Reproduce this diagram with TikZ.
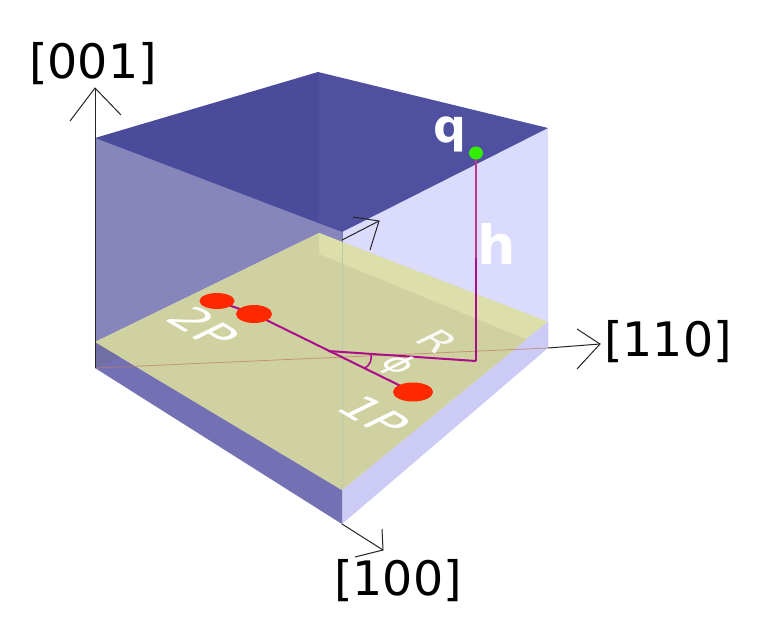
\documentclass[tikz,border=0pt]{standalone}
\usepackage{fontspec}
\setmainfont{DejaVu Sans}
\usetikzlibrary{shapes.geometric}
\definecolor{pl}{RGB}{172,12,140}
\definecolor{plup}{RGB}{190,55,140}
\definecolor{dotred}{RGB}{255,40,0}
\definecolor{dotgreen}{RGB}{51,238,0}
\definecolor{topd}{RGB}{79,81,160}
\definecolor{topdd}{RGB}{74,76,155}
\definecolor{backl}{RGB}{134,133,188}
\definecolor{backr}{RGB}{219,219,254}
\definecolor{yel}{RGB}{207,209,160}
\definecolor{yelb}{RGB}{221,223,170}
\definecolor{frontl}{RGB}{115,113,180}
\definecolor{frontr}{RGB}{203,203,245}
\definecolor{cornerl}{RGB}{112,110,165}
\definecolor{faintv}{RGB}{188,200,172}
\begin{document}
\begin{tikzpicture}[x=1pt,y=-1pt,
  axisline/.style={draw=black!85,line width=1pt,line join=miter},
  purple line/.style={draw=pl,line width=2pt},
  axislabel/.style={font=\fontsize{47.5}{47.5}\selectfont,text=black,inner sep=0pt},
  boldlabel/.style={font=\fontsize{#1}{#1}\selectfont\bfseries,text=white,inner sep=0pt},
  planelabel/.style={font=\fontsize{#1}{#1}\selectfont,text=white,inner sep=0pt,transform shape,cm={0.86,-0.51,0.9,0.44,(0,0)}},
  reddot/.style={ellipse,fill=dotred,inner sep=0pt},
  greendot/.style={ellipse,fill=dotgreen,inner sep=0pt,minimum width=14pt,minimum height=13pt},
]
\useasboundingbox (0,0) rectangle (763,624);
\fill[white] (0,0) rectangle (763,624);
% corners
\coordinate (TL) at (95,138);
\coordinate (TB) at (318,72);
\coordinate (TR) at (548,128);
\coordinate (TF) at (342,232);
\coordinate (TM) at (318,223);
\coordinate (BL) at (95,368);
\coordinate (BB) at (319,254);
\coordinate (BR) at (548,348);
\coordinate (BF) at (342,524);
\coordinate (YL) at (95,342);
\coordinate (YB) at (319,233);
\coordinate (YR) at (548,322);
\coordinate (YF) at (342,490);
\coordinate (YM) at (342,242);
% back faces
\fill[backl] (TL)--(TF)--(YM)--(YB)--(YL)--cycle;
\fill[backr] (TF)--(TR)--(YR)--(YM)--cycle;
% top face
\fill[topd] (TB)--(TR)--(TF)--(TM)--cycle;
\fill[topdd] (TL)--(TB)--(TM)--cycle;
% side strips
\fill[frontr] (YF)--(YR)--(BR)--(BF)--cycle;
\fill[frontl] (YL)--(YF)--(BF)--(BL)--cycle;
\fill[cornerl] (YL)--(BL)--(135,351)--cycle;
% plane
\fill[yel] (YL)--(YB)--(YR)--(YF)--cycle;
\fill[yelb] (YB)--(YR)--(526,339)--(BB)--cycle;
\fill[frontr] (YR)--(BR)--(526,339)--cycle;
% faint lines
\draw[line width=0.7pt,color=faintv] (YM)--(YF);
\draw[line width=0.8pt,color=frontl] (TF)--(YM);
\draw[line width=0.8pt,color=red!30!yel!85!black,opacity=.7] (BL)--(BR);
% axes
\coordinate (tip001) at (95,88);
\coordinate (tip110) at (600,344);
\coordinate (tip100) at (383,550);
\coordinate (tipback) at (379,221);
\draw[axisline] (BL)--(tip001);
\draw[axisline] (70,121)--(tip001)--(121,115);
\draw[axisline] (BR)--(tip110);
\draw[axisline] (577,329)--(tip110)--(577,369);
\draw[axisline] (BF)--(tip100);
\draw[axisline] (382,529)--(tip100)--(355,557);
\draw[axisline] (342,240)--(tipback);
\draw[axisline] (353,217)--(tipback)--(370,250);
% structure
\coordinate (C) at (328,351);
\coordinate (K) at (476,361);
\coordinate (S) at (476,258);
\draw[purple line] (K)--(C);
\draw[draw=plup,line width=2pt] (476,153)--(S);
\draw[purple line] (S)--(K);
\draw[purple line] (217,301)--(254,314)--(413,392);
\draw[draw=pl,line width=1.5pt] (371,354) .. controls (372,360) and (370,365) .. (365,368);
\node[reddot,minimum width=35pt,minimum height=16pt] (p2a) at (217,301) {};
\node[reddot,minimum width=36pt,minimum height=18pt] (p2b) at (254,314) {};
\node[reddot,minimum width=40pt,minimum height=19pt] (p1) at (413,392) {};
\node[greendot] (Q) at (476,153) {};
% labels
\node[axislabel] (l001) at (93,64) {[001]};
\node[axislabel] (l110) at (668,342) {[110]};
\node[axislabel] (l100) at (398,581) {[100]};
\node[boldlabel=46] (lq) at (450,134) {q};
\node[boldlabel=54] (lh) at (497,244) {h};
\node[planelabel=47] (l2p) at (204,327) {2P};
\node[planelabel=47] (l1p) at (374,416) {1P};
\node[planelabel=40,text opacity=.88] (lr) at (438,341) {R};
\node[planelabel=36] (lphi) at (398,365) {ϕ};
\end{tikzpicture}
\end{document}
